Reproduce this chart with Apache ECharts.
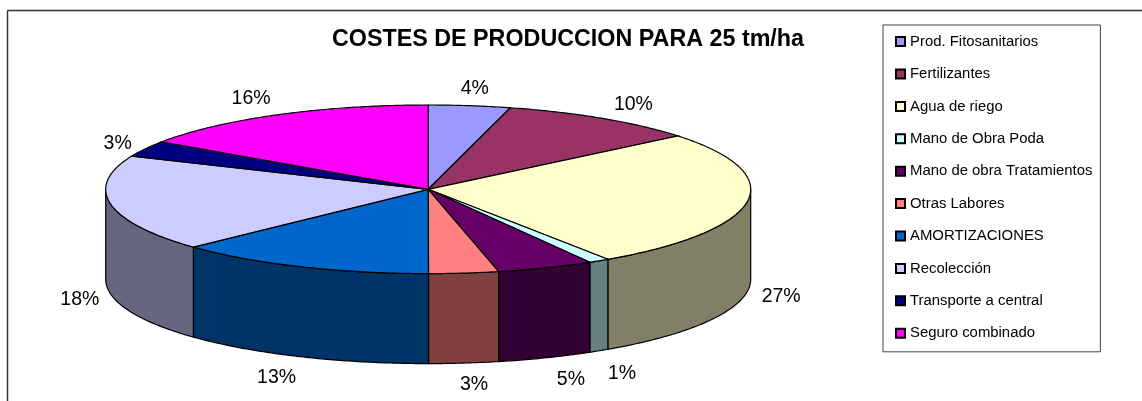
<!DOCTYPE html>
<html>
<head>
<meta charset="utf-8">
<title>Costes de produccion</title>
<style>
  html, body { margin: 0; padding: 0; background: #fff; }
  #chart { width: 1142px; height: 401px; }
</style>
<script src="https://cdn.jsdelivr.net/npm/echarts@6/dist/echarts.min.js"></script>
</head>
<body>
<div id="chart"></div>
<script>
// datos (% de cada partida)
const categories = ['Prod. Fitosanitarios', 'Fertilizantes', 'Agua de riego', 'Mano de Obra Poda',
  'Mano de obra Tratamientos', 'Otras Labores', 'AMORTIZACIONES', 'Recolección',
  'Transporte a central', 'Seguro combinado'];
const values = [4.1, 10.0, 26.5, 1.05, 4.85, 3.49, 13.0, 18.47, 3.05, 15.5];

const topColors = ['#9999ff', '#993366', '#ffffcc', '#ccffff', '#660066', '#ff8080', '#0066cc', '#ccccff', '#000080', '#ff00ff'];
const sideColors = ['#4d4d80', '#4d1a33', '#808066', '#668080', '#330033', '#804040', '#003366', '#666680', '#000040', '#800080'];

// ajuste fino de cada etiqueta respecto a la elipse de etiquetas
const labelNudge = [[-1, 4], [5, 4], [-13, 2], [-2, 4], [8, 2], [5, 0], [-5, 1], [16, 1.5], [14, 5], [-4, 3]];

// geometria del pastel 3D
const cx = 428.2, cy = 189.3, rx = 322.5, ry = 84.3, depth = 90;
const labelRx = 370, labelRy = 106;

const total = values.reduce((a, b) => a + b, 0);
const toAngle = (v) => (v / total) * Math.PI * 2;

const pt = (a, dy) => [cx + rx * Math.sin(a), cy - ry * Math.cos(a) + (dy || 0)];

function arc(a0, a1, dy) {
  const n = Math.max(2, Math.ceil(Math.abs(a1 - a0) / 0.01));
  const pts = [];
  for (let i = 0; i <= n; i++) {
    pts.push(pt(a0 + ((a1 - a0) * i) / n, dy));
  }
  return pts;
}

function renderSlice(i) {
  return function (params, api) {
    const start = toAngle(api.value(1));
    const end = start + toAngle(api.value(0));
    const children = [];

    // cara lateral: solo la mitad delantera se ve
    const s0 = Math.max(start, Math.PI / 2);
    const s1 = Math.min(end, (Math.PI * 3) / 2);
    if (s1 > s0) {
      children.push({
        type: 'polygon',
        shape: { points: arc(s0, s1, 0).concat(arc(s1, s0, depth)) },
        style: { fill: sideColors[i], stroke: '#000', lineWidth: 1.2 },
      });
    }
    children.push({
      type: 'polygon',
      shape: { points: [[cx, cy]].concat(arc(start, end, 0)) },
      style: { fill: topColors[i], stroke: '#000', lineWidth: 1.2 },
    });

    const mid = (start + end) / 2;
    const front = Math.cos(mid) < 0;
    children.push({
      type: 'text',
      x: cx + labelRx * Math.sin(mid) + labelNudge[i][0],
      y: cy - labelRy * Math.cos(mid) + (front ? depth : 0) + labelNudge[i][1],
      style: {
        text: Math.round(api.value(0)) + '%',
        align: 'center',
        verticalAlign: 'middle',
        fill: '#000',
        font: '19.5px "Liberation Sans", Arial, sans-serif',
      },
    });
    return { type: 'group', children: children };
  };
}

const myChart = echarts.init(document.getElementById('chart'), null, { renderer: 'canvas' });

let acum = 0;
const series = categories.map((name, i) => {
  const s = {
    type: 'custom',
    name: name,
    coordinateSystem: 'none',
    silent: true,
    itemStyle: { color: topColors[i], borderColor: '#000', borderWidth: 1 },
    renderItem: renderSlice(i),
    data: [[values[i], acum]],
  };
  acum += values[i];
  return s;
});

myChart.setOption({
  animation: false,
  backgroundColor: '#fff',
  title: {
    text: 'COSTES DE PRODUCCION PARA 25 tm/ha',
    left: 568,
    top: 28,
    textAlign: 'center',
    padding: 0,
    textStyle: { color: '#000', fontSize: 23.3, fontWeight: 'bold', fontFamily: '"Liberation Sans", Arial, sans-serif' },
  },
  legend: {
    orient: 'vertical',
    left: 883,
    top: 25,
    width: 217,
    padding: [8.6, 8, 10.6, 12],
    itemWidth: 9,
    itemHeight: 9,
    itemGap: 16.4,
    icon: 'rect',
    borderColor: '#404040',
    borderWidth: 1,
    selectedMode: false,
    textStyle: { color: '#000', fontSize: 14.9, lineHeight: 16, fontFamily: '"Liberation Sans", Arial, sans-serif' },
    data: categories,
  },
  graphic: [
    { type: 'line', shape: { x1: 7.5, y1: 10.5, x2: 7.5, y2: 401 }, style: { stroke: '#333', lineWidth: 1.5 } },
    { type: 'line', shape: { x1: 7.5, y1: 10.5, x2: 1142, y2: 10.5 }, style: { stroke: '#333', lineWidth: 1.5 } },
  ],
  series: series,
});

window.addEventListener('resize', myChart.resize);
</script>
</body>
</html>
